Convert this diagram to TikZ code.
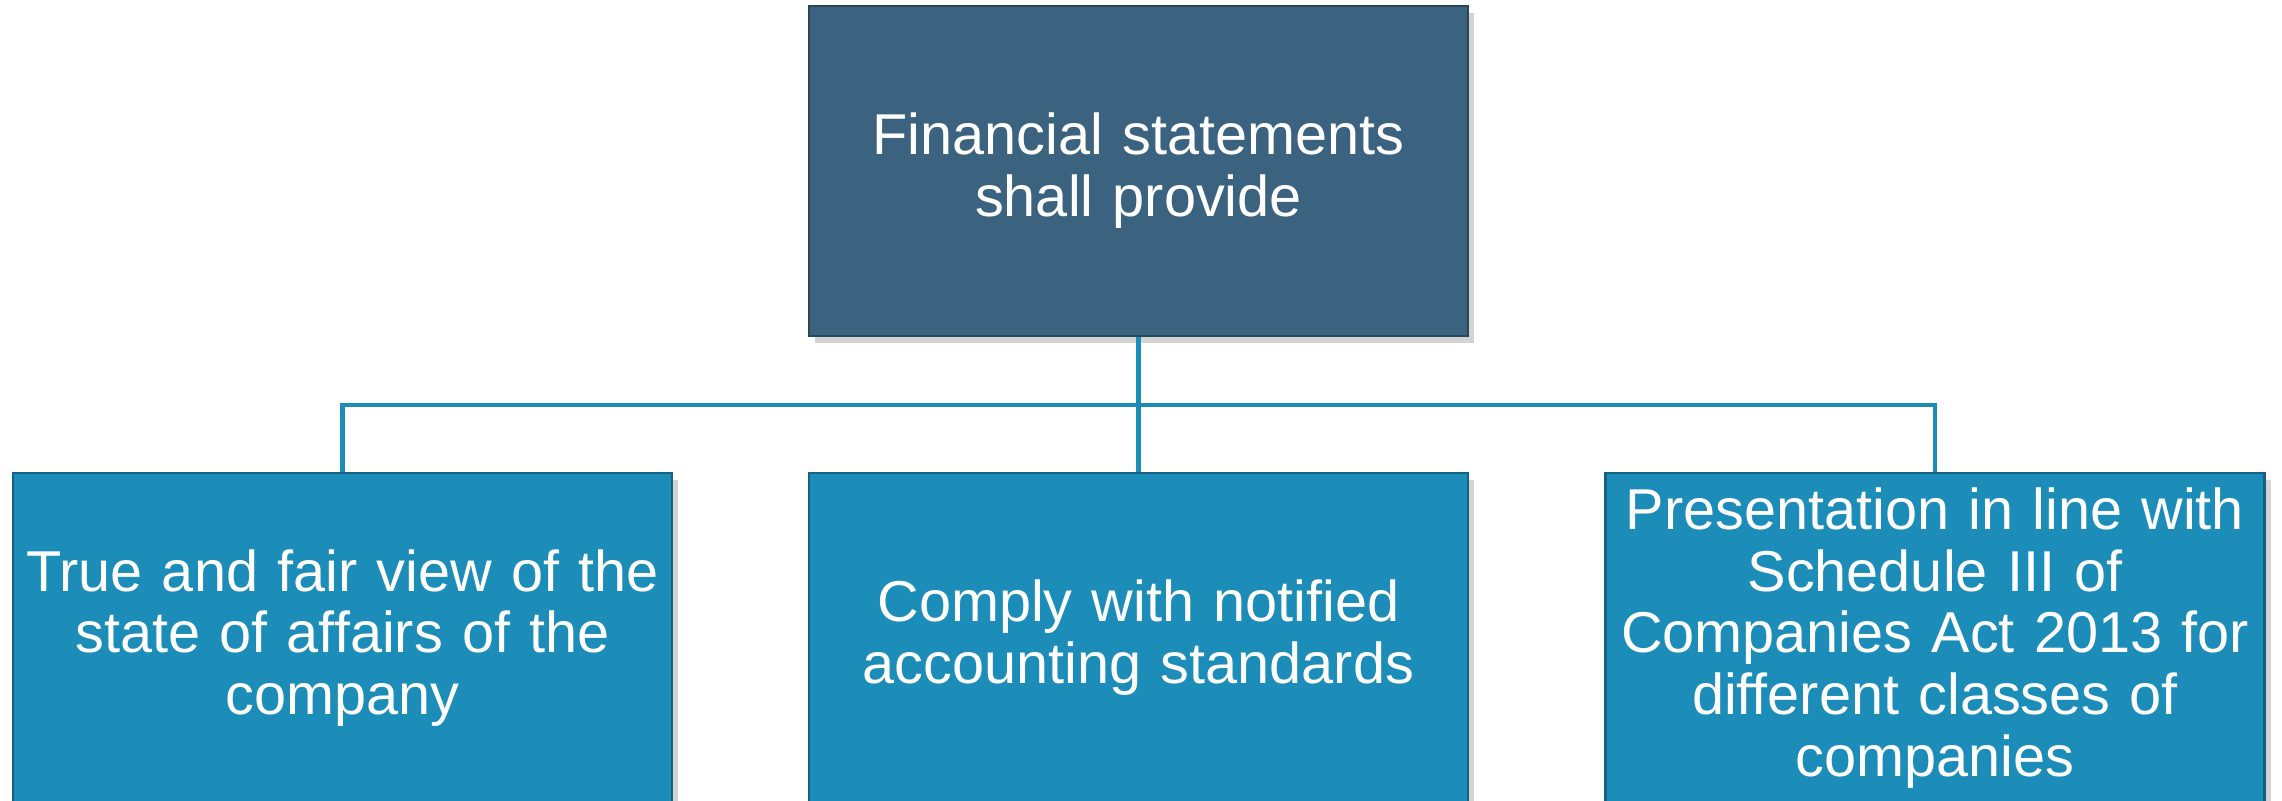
\documentclass[tikz,border=0pt]{standalone}
\usepackage{fontspec}
\setmainfont{Liberation Sans}
\usetikzlibrary{shadows}
\definecolor{slateblue}{HTML}{3B6380}
\definecolor{oceanblue}{HTML}{1C8CB9}
\begin{document}
\begin{tikzpicture}[
        topbox/.style={rectangle, draw=slateblue!70!black, line width=0.8pt, fill=slateblue, text=white, text width=6.59cm, inner sep=0pt, minimum height=3.3cm, align=center, font=\fontsize{16.4}{17.6}\selectfont, drop shadow={opacity=0.35, shadow xshift=0.06cm, shadow yshift=-0.07cm}},
        subbox/.style={rectangle, draw=oceanblue!70!black, line width=0.8pt, fill=oceanblue, text=white, text width=6.59cm, inner sep=0pt, minimum height=3.3cm, align=center, font=\fontsize{16.4}{17.6}\selectfont, drop shadow={opacity=0.35, shadow xshift=0.06cm, shadow yshift=-0.07cm}},
        link/.style={draw=oceanblue, line width=1.2pt}
    ]
        \useasboundingbox (0,0) rectangle (22.82,8.01);
        \node[topbox] (provide) at (11.385,6.30) {Financial statements\\shall provide};
        \coordinate (bus) at (11.385,3.96);
        \node[subbox] (view) at (3.425,1.63) {True and fair view of the\\state of affairs of the\\company};
        \node[subbox] (comply) at (11.385,1.63) {Comply with notified\\accounting standards};
        \node[subbox] (present) at (19.35,1.63) {Presentation in line with\\Schedule III of\\Companies Act 2013 for\\different classes of\\companies};

        \draw[link] (provide) -- (bus);
        \draw[link] (bus) -| (view);
        \draw[link] (bus) -- (comply);
        \draw[link] (bus) -| (present);
    \end{tikzpicture}
\end{document}
